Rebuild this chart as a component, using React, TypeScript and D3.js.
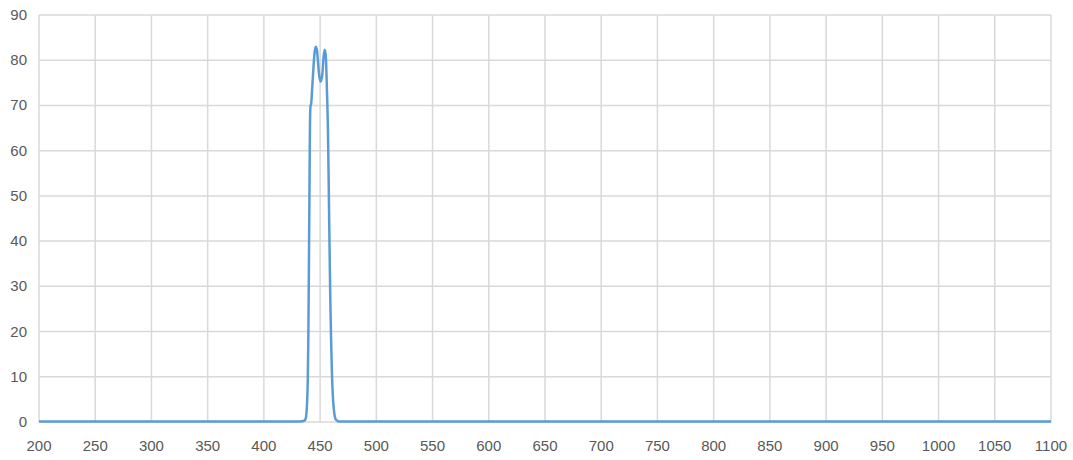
import * as d3 from 'd3';

const WIDTH = 1073;
const HEIGHT = 460;
const MARGIN = { top: 15, right: 22, bottom: 38, left: 39 };

// wavelength (nm) and transmission (%)
const wavelengths = [
    200, 300, 400, 430, 434, 436, 437, 438, 439, 439.5, 440, 440.5, 441, 441.5, 442, 443, 444, 445,
    446, 447, 448, 449, 450.5, 452, 453, 454, 455, 456, 457, 458, 459, 459.7, 460.5, 461.5, 462.5,
    463.5, 465, 467, 470, 500, 600, 800, 1000, 1100,
];
const transmission = [
    0.1, 0.1, 0.1, 0.1, 0.15, 0.3, 0.6, 2.5, 9, 18, 33, 50, 66, 70, 70.3, 74, 78, 81.5,
    83, 82.5, 80, 77, 75.3, 77, 80.5, 82.3, 81.2, 74, 64, 46, 28, 19, 11, 5, 2.2,
    0.8, 0.3, 0.1, 0.1, 0.1, 0.1, 0.1, 0.1, 0.1,
];

const xTicks = d3.range(200, 1101, 50);
const yTicks = d3.range(0, 91, 10);

export default function App() {
    const boundsWidth = WIDTH - MARGIN.left - MARGIN.right;
    const boundsHeight = HEIGHT - MARGIN.top - MARGIN.bottom;

    const xScale = d3.scaleLinear().domain([200, 1100]).range([0, boundsWidth]);
    const yScale = d3.scaleLinear().domain([0, 90]).range([boundsHeight, 0]);

    const points = wavelengths.map((w, i) => [w, transmission[i]] as [number, number]);
    const line = d3
        .line<[number, number]>()
        .x((d) => xScale(d[0]))
        .y((d) => yScale(d[1]))
        .curve(d3.curveMonotoneX);

    return (
        <div style={{ position: 'absolute', left: 0, top: 0 }}>
            <svg width={WIDTH} height={HEIGHT} style={{ display: 'block', background: '#fff' }}>
                <g transform={`translate(${MARGIN.left},${MARGIN.top})`}>
                    {yTicks.map((v) => (
                        <g key={'y' + v}>
                            <line x1={0} x2={boundsWidth} y1={yScale(v)} y2={yScale(v)} stroke="#d9d9d9" strokeWidth={1.5} />
                            <text
                                x={-12}
                                y={yScale(v) + 5}
                                textAnchor="end"
                                fontSize={15}
                                fontFamily="'Liberation Sans', Arial, sans-serif"
                                fill="#595959"
                            >
                                {v}
                            </text>
                        </g>
                    ))}
                    {xTicks.map((v) => (
                        <g key={'x' + v}>
                            <line x1={xScale(v)} x2={xScale(v)} y1={0} y2={boundsHeight} stroke="#d9d9d9" strokeWidth={1.5} />
                            <text
                                x={xScale(v)}
                                y={boundsHeight + 29}
                                textAnchor="middle"
                                fontSize={15}
                                fontFamily="'Liberation Sans', Arial, sans-serif"
                                fill="#595959"
                            >
                                {v}
                            </text>
                        </g>
                    ))}
                    <path d={line(points) ?? ''} fill="none" stroke="#5b9bd5" strokeWidth={2.5} strokeLinejoin="round" />
                </g>
            </svg>
        </div>
    );
}
